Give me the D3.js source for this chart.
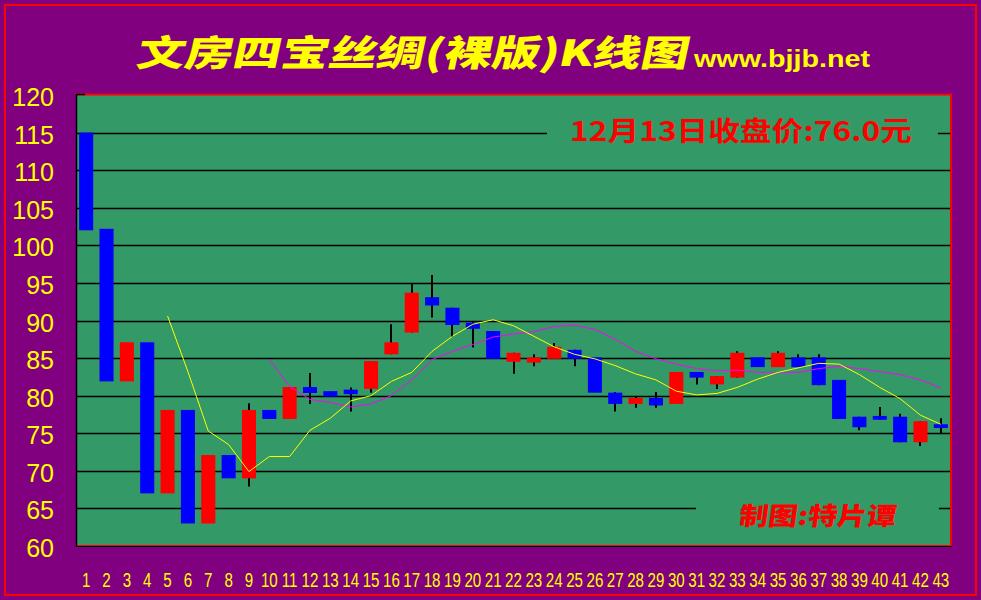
<!DOCTYPE html>
<html><head><meta charset="utf-8">
<script src="https://cdn.jsdelivr.net/npm/d3@7/dist/d3.min.js"></script>
<style>html,body{margin:0;padding:0;background:#800080;}svg{display:block;}</style>
</head><body>
<svg id="chart" width="981" height="600"></svg>
<script>
// ---- data ----
const days = d3.range(1, 44).map(String);
const openPrices  = [115,102.2,81.9,87.1,67,78.1,63,72.1,69,78.1,76.9,81.15,80.6,80.8,80.9,85.5,88.4,93.1,91.7,89.7,88.6,84.5,84.4,84.9,86.1,85.1,80.4,78.9,79.7,78.9,83.15,81.5,82.4,85.1,83.8,85.1,85.1,82.1,77.2,77.3,77.2,73.8,76.2];
const closePrices = [102,81.9,87.1,67,78.1,63,72.1,69,78.1,76.9,81.15,80.35,79.9,80.2,84.6,87.1,93.7,92.0,89.4,88.9,84.9,85.7,85.1,86.5,84.9,80.4,78.9,79.7,78.7,83.15,82.4,82.6,85.7,83.8,85.7,83.8,81.4,76.9,75.8,76.8,73.8,76.6,75.7];
const highPrices  = [115,102.2,87.1,87.1,78.1,78.1,72.1,72.1,79,78.1,81.15,83,80.6,81.1,84.6,89.5,95,96.05,91.7,89.9,88.6,85.7,85.5,87.0,86.1,85.1,80.5,79.9,80.5,83.15,83.15,82.6,85.9,85.1,85.9,85.5,85.5,82.1,77.2,78.5,77.6,76.6,77.0];
const lowPrices   = [102,81.9,81.9,67,67,63,63,69,67.9,76.9,76.9,78.9,79.9,77.9,80.4,85.5,88.4,90.4,87.8,86.4,84.9,82.9,83.9,84.9,83.9,80.4,77.9,78.4,78.4,78.9,81.5,80.9,82.4,83.8,83.8,83.8,81.4,76.9,75.4,76.8,73.8,73.3,75.0];
// moving average lines (MA5 starts day 5, MA10 starts day 10)
const ma5Days  = d3.range(5, 44).map(String);
const ma5      = [90.6,83.2,75.3,73.5,69.9,71.9,71.9,75.4,77.0,79.3,80.0,81.9,83.1,85.9,87.9,89.5,90.1,89.3,87.9,86.5,85.5,84.9,84.0,82.9,82.1,80.6,80.1,80.3,81.1,82.2,83.1,83.7,84.3,84.2,82.8,81.1,79.6,77.4,76.2];
const ma10Days = d3.range(10, 44).map(String);
const ma10     = [84.8,81.2,79.5,79.1,78.5,78.9,80.0,82.1,84.8,85.9,86.8,87.8,88.2,88.5,89.2,89.4,88.8,87.5,85.9,84.9,84.2,83.6,83.3,83.4,83.1,83.1,83.1,83.6,83.9,83.6,83.2,82.8,82.1,81.0];
const yTicks = [60,65,70,75,80,85,90,95,100,105,110,115,120];
const titleText = "文房四宝丝绸(裸版)K线图";
const siteText = "www.bjjb.net";
const closeNote = "12月13日收盘价:76.0元";
const authorNote = "制图:特片谭";

// ---- drawing ----
const svg = d3.select("#chart");
const L = 76, R = 951, T = 95, B = 546;
const x = d3.scaleBand().domain(days).range([L, R]).paddingInner(0.31).paddingOuter(0.155);
const y = d3.scaleLinear().domain([60, 120]).range([B, T]);
const cx = d => x(d) + x.bandwidth() / 2;

svg.append("rect").attr("width", 981).attr("height", 600).attr("fill", "#800080");
svg.append("rect").attr("x", 5).attr("y", 5).attr("width", 971).attr("height", 590)
  .attr("fill", "none").attr("stroke", "#ff0000").attr("stroke-width", 2);

// plot area
svg.append("rect").attr("x", L).attr("y", T).attr("width", R - L).attr("height", B - T).attr("fill", "#339966");

// gridlines
svg.append("g").selectAll("line").data(yTicks.filter(v => v > 60 && v < 120)).join("line")
  .attr("x1", L).attr("x2", R).attr("y1", d => Math.round(y(d)) + 0.5).attr("y2", d => Math.round(y(d)) + 0.5)
  .attr("stroke", "#000").attr("stroke-width", 1.3);

// borders
svg.append("line").attr("x1", L).attr("x2", R + 1).attr("y1", T - 0.5).attr("y2", T - 0.5).attr("stroke", "#ff0000").attr("stroke-width", 2);
svg.append("line").attr("x1", R).attr("x2", R).attr("y1", T - 1).attr("y2", B).attr("stroke", "#ff0000").attr("stroke-width", 2);
svg.append("line").attr("x1", L).attr("x2", R + 1).attr("y1", B - 0.5).attr("y2", B - 0.5).attr("stroke", "#ff0000").attr("stroke-width", 1);
svg.append("line").attr("x1", L).attr("x2", R + 1).attr("y1", B + 0.5).attr("y2", B + 0.5).attr("stroke", "#000").attr("stroke-width", 1);
svg.append("line").attr("x1", L + 0.5).attr("x2", L + 0.5).attr("y1", T - 1).attr("y2", B + 1).attr("stroke", "#000").attr("stroke-width", 1.5);
svg.append("line").attr("x1", L).attr("x2", L + 9).attr("y1", T - 0.5).attr("y2", T - 0.5).attr("stroke", "#000").attr("stroke-width", 1.5);

// close-price note with green backing box
svg.append("rect").attr("x", 547).attr("y", 114).attr("width", 391).attr("height", 32).attr("fill", "#339966");
svg.append("text").attr("x", 570).attr("y", 141).text(closeNote)
  .attr("font-family", "'Noto Sans CJK SC', sans-serif").attr("font-weight", 700).attr("font-size", 27)
  .attr("fill", "#ff0000").attr("textLength", 342).attr("lengthAdjust", "spacingAndGlyphs");

// author note with backing box
svg.append("rect").attr("x", 696).attr("y", 498).attr("width", 243).attr("height", 34).attr("fill", "#339966");
svg.append("text").attr("transform", "translate(738,525) skewX(-8)").text(authorNote)
  .attr("font-family", "'Noto Sans CJK SC', sans-serif").attr("font-weight", 900).attr("font-size", 25)
  .attr("fill", "#ff0000").attr("textLength", 157).attr("lengthAdjust", "spacingAndGlyphs");

const data = days.map((d, i) => ({d, o: openPrices[i], c: closePrices[i], h: highPrices[i], l: lowPrices[i]}));

// wicks
svg.append("g").selectAll("line").data(data.filter(k => k.h > Math.max(k.o, k.c) || k.l < Math.min(k.o, k.c))).join("line")
  .attr("x1", k => Math.round(cx(k.d))).attr("x2", k => Math.round(cx(k.d)))
  .attr("y1", k => y(k.h)).attr("y2", k => y(k.l))
  .attr("stroke", "#000").attr("stroke-width", 2);

// bodies
svg.append("g").selectAll("rect").data(data).join("rect")
  .attr("x", k => x(k.d)).attr("width", x.bandwidth())
  .attr("y", k => y(Math.max(k.o, k.c))).attr("height", k => Math.max(1, Math.abs(y(k.o) - y(k.c))))
  .attr("fill", k => k.c >= k.o ? "#ff0000" : "#0000ff");

// moving averages
const lineGen = d3.line().x(p => cx(p[0])).y(p => y(p[1]));
svg.append("path").datum(ma10Days.map((d, i) => [d, ma10[i]])).attr("d", lineGen)
  .attr("fill", "none").attr("stroke", "#ff00ff").attr("stroke-width", 1);
svg.append("path").datum(ma5Days.map((d, i) => [d, ma5[i]])).attr("d", lineGen)
  .attr("fill", "none").attr("stroke", "#ffff00").attr("stroke-width", 1);

// y axis labels
svg.append("g").selectAll("text").data(yTicks).join("text")
  .attr("x", 54).attr("y", d => y(d) + 11).attr("text-anchor", "end").text(d => d)
  .attr("font-family", "'Liberation Sans', Arial, sans-serif").attr("font-size", 25)
  .attr("fill", "#ffff00");

// x axis labels (condensed)
svg.append("g").selectAll("text").data(days).join("text")
  .attr("transform", d => `translate(${cx(d)},587) scale(0.72,1)`).attr("text-anchor", "middle").text(d => d)
  .attr("font-family", "'Liberation Sans', Arial, sans-serif").attr("font-size", 21)
  .attr("fill", "#ffff00");

// title
svg.append("text").attr("transform", "translate(135,66) scale(1,0.82) skewX(-10)").text(titleText)
  .attr("font-family", "'Noto Sans CJK SC', sans-serif").attr("font-weight", 900).attr("font-size", 44)
  .attr("fill", "#ffff00").attr("textLength", 552).attr("lengthAdjust", "spacingAndGlyphs");
svg.append("text").attr("transform", "translate(694,67) scale(1,1.1)").text(siteText)
  .attr("font-family", "'Liberation Sans', Arial, sans-serif").attr("font-weight", 700).attr("font-size", 22)
  .attr("fill", "#ffff00").attr("textLength", 176).attr("lengthAdjust", "spacingAndGlyphs");
</script>
</body></html>
